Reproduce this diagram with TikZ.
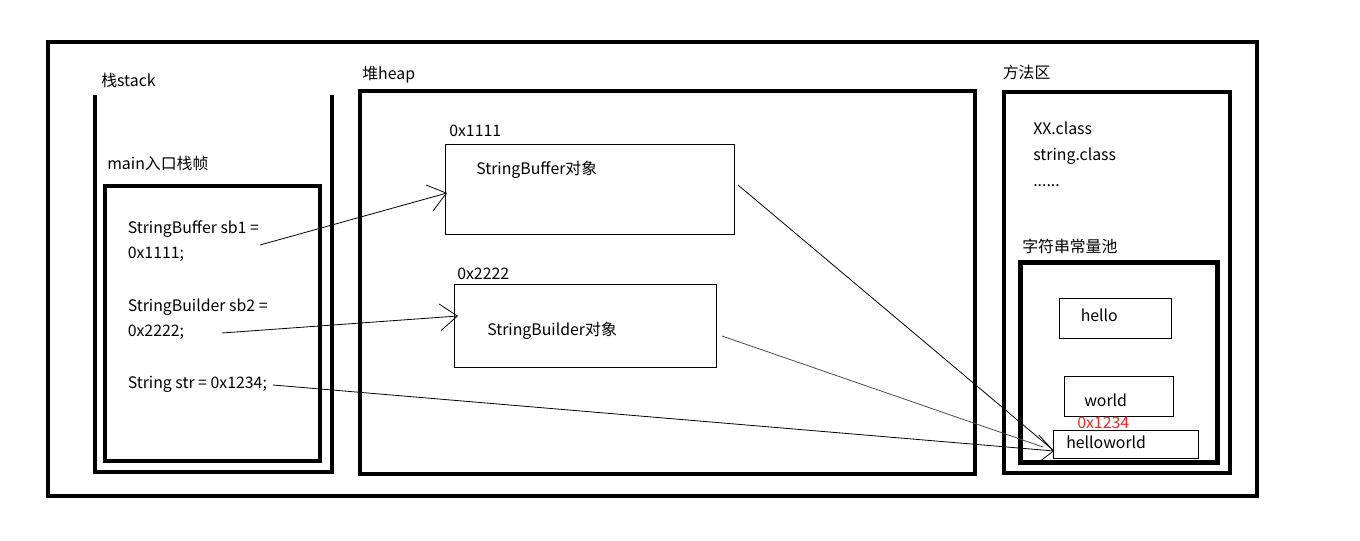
\documentclass[tikz,border=0pt]{standalone}
\usepackage{fontspec}
\setmainfont{Noto Sans CJK SC}
\usetikzlibrary{arrows.meta,fit}
\begin{document}
\begin{tikzpicture}[x=0.75pt,y=-0.75pt,
  region/.style={draw=black,line width=3.4pt,inner sep=0pt},
  objbox/.style={draw=black,line width=0.75pt,inner sep=0pt},
  txt/.style={anchor=base west,inner sep=0pt,font=\fontsize{11.9}{14}\selectfont},
  redtxt/.style={txt,text={rgb,255:red,240;green,40;blue,40}},
  link/.style={draw=black,line width=0.6pt},
  arr/.style={link,-{Straight Barb[length=13pt,width=20pt,line width=0.6pt]}},
  arrbig/.style={link,-{Straight Barb[length=12pt,width=22pt,line width=0.6pt]}}]
\useasboundingbox (0,0) rectangle (1360,541);

% outer frame
\node[region,fit={(48,42) (1257,496)}] (outer) {};

% stack
\draw[line width=3.4pt] (95,95) -- (95,472) -- (332,472) -- (332,95);
\node[txt] (stacklbl) at (101,86.5) {栈stack};
\node[txt] (mainlbl) at (107,170) {main入口栈帧};
\node[region,fit={(105,186) (320,461)}] (mainframe) {};
\node[txt] (t1a) at (127.5,234) {StringBuffer sb1 =};
\node[txt] (t1b) at (127.5,259) {0x1111;};
\node[txt] (t2a) at (127.5,311.5) {StringBuilder sb2 =};
\node[txt] (t2b) at (127.5,336.5) {0x2222;};
\node[txt] (t3) at (127.5,389) {String str = 0x1234;};

% heap
\node[txt] (heaplbl) at (362,80) {堆heap};
\node[region,fit={(360,91) (975,474)}] (heap) {};
\node[txt] (a1) at (449,136.5) {0x1111};
\node[objbox,fit={(445,145) (734,235)}] (sbuf) {};
\node[txt] (sbuftxt) at (476,175) {StringBuffer对象};
\node[txt] (a2) at (457,279.5) {0x2222};
\node[objbox,fit={(454,285) (716,368)}] (sbuild) {};
\node[txt] (sbuildtxt) at (487,336) {StringBuilder对象};

% method area
\node[txt] (methlbl) at (1002.5,78.5) {方法区};
\node[region,fit={(1004,92) (1230,473)}] (meth) {};
\node[txt] (xx) at (1033,135) {XX.class};
\node[txt] (sc) at (1033,160.5) {string.class};
\node[txt] (dots) at (1033,186.5) {......};
\node[txt] (poollbl) at (1022,253) {字符串常量池};
\node[region,fit={(1020.5,262.5) (1217.5,462.5)}] (pool) {};
\node[objbox,fit={(1059,298.5) (1171,339)}] (hello) {};
\node[txt] (hellotxt) at (1080.5,321.5) {hello};
\node[objbox,fit={(1064,376.5) (1173,416.5)}] (world) {};
\node[txt] (worldtxt) at (1084,406.5) {world};
\node[redtxt] (addr) at (1077,428.5) {0x1234};
\node[objbox,fit={(1053,430.5) (1198.5,458)}] (hw) {};
\node[txt] (hwtxt) at (1066,448.5) {helloworld};

% connector ends
\coordinate (s1) at (260,245);
\coordinate (s2) at (222,333);
\coordinate (s3) at (273,385);
\coordinate (e1) at (447,193);
\coordinate (e2) at (458,316);
\coordinate (o1) at (738,185);
\coordinate (o2) at (722,336);
\coordinate (h1) at (1053,450);
\coordinate (h2) at (1043,447);
\coordinate (h3) at (1054,451);

\draw[arr] (s1) -- (e1);
\draw[arr] (s2) -- (e2);
\draw[link] (o1) -- (h1);
\draw[link,draw=black!70] (o2) -- (h2);
\draw[arrbig] (s3) -- (h3);
\end{tikzpicture}
\end{document}
